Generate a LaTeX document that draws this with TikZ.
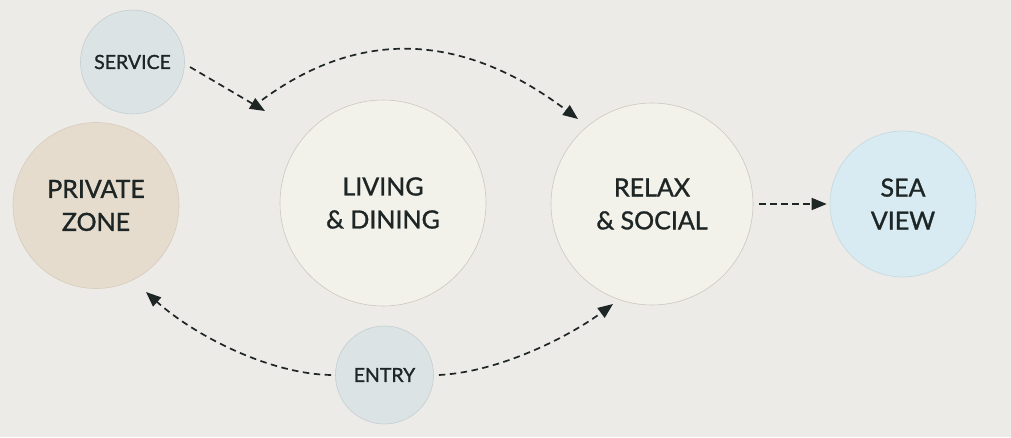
\documentclass[tikz,border=0pt]{standalone}
\usepackage{fontspec}
\setmainfont{Lato}[FakeBold=1.2]
\usetikzlibrary{arrows.meta}
\definecolor{bg}{RGB}{237,235,232}
\definecolor{ink}{RGB}{30,37,37}
\definecolor{bluegrey}{RGB}{219,227,229}
\definecolor{bluegreyline}{RGB}{196,206,208}
\definecolor{beige}{RGB}{229,220,206}
\definecolor{beigeline}{RGB}{214,204,188}
\definecolor{ivory}{RGB}{242,241,234}
\definecolor{ivoryline}{RGB}{204,200,190}
\definecolor{seablue}{RGB}{216,235,242}
\definecolor{sealine}{RGB}{196,216,222}
\tikzset{
  zone/.style={circle, inner sep=0pt, align=center, text=ink, line width=0.6pt,
    font=\fontsize{25}{33}\selectfont},
  smallzone/.style={circle, inner sep=0pt, align=center, text=ink, line width=0.6pt,
    font=\fontsize{19.5}{22}\selectfont},
  flow/.style={draw=ink, line width=1.7pt, dash pattern=on 6.5pt off 4.5pt,
    -{Triangle[length=15pt,width=12pt]}}
}
\begin{document}
\begin{tikzpicture}[x=1pt,y=-1pt]
\fill[bg] (0,0) rectangle (1011,437);
\useasboundingbox (0,0) rectangle (1011,437);

\node[smallzone, fill=bluegrey, draw=bluegreyline, minimum size=104pt] (service) at (132.5,62) {SERVICE};
\node[zone, fill=beige, draw=beigeline, minimum size=166pt] (private) at (96,205.5) {PRIVATE\\ZONE};
\node[zone, fill=ivory, draw=ivoryline, minimum size=206pt] (living) at (383,203) {LIVING\\\&~DINING};
\node[zone, fill=ivory, draw=ivoryline, minimum size=202pt] (relax) at (652,204) {RELAX\\\&~SOCIAL};
\node[zone, fill=seablue, draw=sealine, minimum size=146pt] (sea) at (903,204) {SEA\\VIEW};
\node[smallzone, fill=bluegrey, draw=bluegreyline, minimum size=98pt] (entry) at (384.5,375) {ENTRY};

\coordinate (p1) at (265,111);
\coordinate (p1top) at (262,100);

% service to living
\draw[flow] (190,67) -- (p1);
% arc living to relax
\draw[flow] (p1top) .. controls (368,22) and (472,39) .. (578,119);
% relax to sea
\draw[flow] (relax.east) ++(6,0) -- ([xshift=-3pt]sea.west);
% entry to relax
\draw[flow] ([xshift=5pt]entry.east) .. controls (500,372) and (570,336) .. (613,304);
% entry to private
\draw[flow] ([xshift=-4pt]entry.west) .. controls (270,374) and (195,336) .. (146,292);
\end{tikzpicture}
\end{document}
